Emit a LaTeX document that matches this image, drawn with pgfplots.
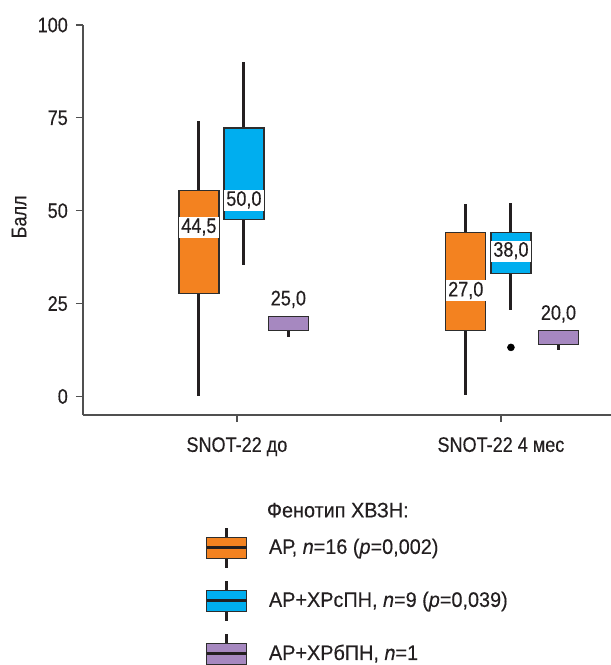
\documentclass[border=0pt]{standalone}
\usepackage{fontspec}
\setmainfont{Liberation Sans}[FakeStretch=0.86, FakeBold=0.3]
\newfontfamily\legfont{Liberation Sans}[FakeStretch=0.945, FakeBold=0.3]
\usepackage{pgfplots}
\pgfplotsset{compat=1.18}
\usepgfplotslibrary{statistics}
\definecolor{cOrange}{RGB}{243,130,32}
\definecolor{cBlue}{RGB}{0,174,239}
\definecolor{cPurple}{RGB}{166,136,192}
\definecolor{boxc}{RGB}{45,45,45}
\definecolor{whiskc}{RGB}{35,31,32}
\definecolor{axc}{RGB}{80,80,80}
\definecolor{txtc}{RGB}{35,31,32}
\newcommand\fs{\fontsize{21bp}{25bp}\selectfont}
\pgfplotsset{
  mybox/.style={
    boxplot prepared={#1},
    boxplot/draw direction=y,
    boxplot/box extend=0.1515,
    boxplot/whisker extend=0,
    draw=whiskc, line width=3bp,
    boxplot/every whisker/.style={draw=whiskc, line width=3bp},
    boxplot/draw/median/.code={},
    forget plot,
  },
  boxleg/.style={legend image code/.code={%
    \draw[line width=3bp, color=whiskc] (20bp,-20bp)--(20bp,20bp);
    \draw[line width=1.3bp, draw=boxc, fill=#1] (0bp,-10.5bp) rectangle (40bp,10.5bp);
    \draw[line width=2.8bp, color=whiskc] (0bp,0bp)--(40bp,0bp);
  }},
}
\pgfplotstableread{
x y lab
0.856 45.5 {44,5}
1.0265 52.8 {50,0}
1.195 26.0 {25,0}
1.867 28.4 {27,0}
2.038 39.1 {38,0}
2.218 22.1 {20,0}
}\medlabels
\begin{document}
\fs
\begin{tikzpicture}[font=\fs, text=txtc]
\begin{axis}[
  name=ax,
  at={(0,0)}, anchor=south west,
  width=528bp, height=390bp, scale only axis,
  xmin=0.417, xmax=2.417, ymin=-5, ymax=100,
  axis lines=left,
  axis line style={-, draw=axc, line width=1.2bp},
  tick style={draw=axc, line width=1.2bp},
  tick align=outside,
  major tick length=7bp,
  xtick={1,2},
  xticklabels={SNOT-22 до, SNOT-22 4 мес},
  ytick={0,25,50,75,100},
  /pgf/number format/assume math mode=true,
  ylabel={Балл},
  ylabel style={at={(axis description cs:-0.121,0.508)}, anchor=center, rotate=0},
  xticklabel style={yshift=-8bp},
  yticklabel style={xshift=-1bp},
  legend style={at={(axis description cs:0.231,-0.285)}, anchor=north west,
    draw=none, fill=none, inner sep=0pt, row sep=10bp, column sep=21bp,
    nodes={inner sep=0pt, anchor=west}, font=\fs\legfont},
  legend cell align=left,
  clip=false,
]
% Group 1: SNOT-22 до
\addplot[mybox={lower whisker=0, lower quartile=27.7, median=44.5, upper quartile=55.4, upper whisker=74.2, draw position=0.856},
  boxplot/every box/.style={draw=boxc, line width=1.3bp, fill=cOrange}] coordinates {};
\addplot[mybox={lower whisker=35.5, lower quartile=47.6, median=50, upper quartile=72.3, upper whisker=90, draw position=1.0265},
  boxplot/every box/.style={draw=boxc, line width=1.3bp, fill=cBlue}] coordinates {};
\addplot[mybox={lower whisker=16.1, lower quartile=17.7, median=25, upper quartile=21.5, upper whisker=21.5, draw position=1.195},
  boxplot/every box/.style={draw=boxc, line width=1.3bp, fill=cPurple}] coordinates {};
% Group 2: SNOT-22 4 мес
\addplot[mybox={lower whisker=0.5, lower quartile=17.7, median=27, upper quartile=44.1, upper whisker=51.9, draw position=1.867},
  boxplot/every box/.style={draw=boxc, line width=1.3bp, fill=cOrange}] coordinates {};
\addplot[mybox={lower whisker=23.4, lower quartile=33.1, median=38, upper quartile=44.1, upper whisker=52, draw position=2.038},
  boxplot/every box/.style={draw=boxc, line width=1.3bp, fill=cBlue},
  mark=*, mark size=3.5bp, mark options={fill=black, draw=black, line width=0.5bp}] coordinates {(0,13.2)};
\addplot[mybox={lower whisker=12.4, lower quartile=14.0, median=20, upper quartile=17.7, upper whisker=17.7, draw position=2.218},
  boxplot/every box/.style={draw=boxc, line width=1.3bp, fill=cPurple}] coordinates {};
% median labels
\addplot[draw=none, mark=none, forget plot, nodes near coords, point meta=explicit symbolic,
  nodes near coords align=center,
  every node near coord/.style={fill=white, inner xsep=1bp, inner ysep=0bp, text height=16bp, text depth=5bp, minimum width=40bp, anchor=center, text=txtc, font=\fs}]
  table[x=x, y=y, meta=lab] {\medlabels};
% legend
\addlegendimage{boxleg=cOrange}
\addlegendentry{АР, \textit{n}=16 (\textit{p}=0,002)}
\addlegendimage{boxleg=cBlue}
\addlegendentry{АР+ХРсПН, \textit{n}=9 (\textit{p}=0,039)}
\addlegendimage{boxleg=cPurple}
\addlegendentry{АР+ХРбПН, \textit{n}=1}
\node[anchor=west, inner sep=0pt, font=\fs\legfont] at (axis description cs:0.348,-0.244) {Фенотип ХВЗН:};
\end{axis}
\pgfresetboundingbox
\path[use as bounding box] (-83bp,-250bp) rectangle (528bp,415bp);
\end{tikzpicture}
\end{document}
